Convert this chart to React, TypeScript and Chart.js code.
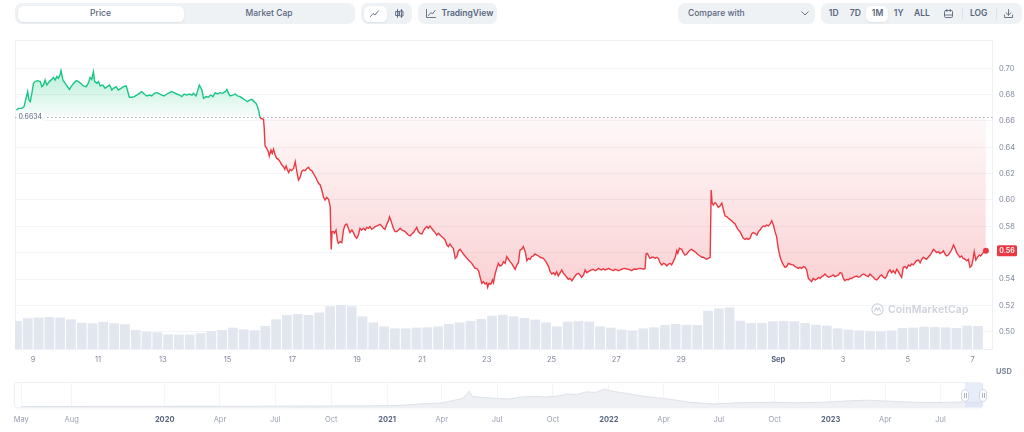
import { useEffect, useRef } from "react";
import { Chart, registerables } from "chart.js";

Chart.register(...registerables);

const GREEN = "#16c784";
const RED = "#ea3943";
const TEXT = "#58667e";
const MUTED = "#808a9d";
const PANEL = "#eff2f5";
const FONT = "Inter, sans-serif";

// price at the start of the period, drawn as the dotted reference line
const OPEN_PRICE = 0.6634;

// x is "day of August" (Sep 1 = 32)
const X_MIN = 8.44;
const X_MAX = 38.63;
const dayTicks = [9, 11, 13, 15, 17, 19, 21, 23, 25, 27, 29, 32, 34, 36, 38];
const dayTickLabels = ["9", "11", "13", "15", "17", "19", "21", "23", "25", "27", "29", "Sep", "3", "5", "7"];

const Y_MIN = 0.48686;
const Y_MAX = 0.72149;
const priceTicks = [0.5, 0.52, 0.54, 0.56, 0.58, 0.6, 0.62, 0.64, 0.66, 0.68, 0.7];

// [day, price USD]
const pricePoints: [number, number][] = [
  [8.48, 0.6683], [8.55, 0.6696], [8.65, 0.6696], [8.72, 0.6709], [8.78, 0.6772], [8.83, 0.6823], [8.87, 0.6759], [8.91, 0.6747],
  [8.96, 0.681], [9.01, 0.6886], [9.06, 0.6899], [9.13, 0.6906], [9.22, 0.6899], [9.27, 0.6861], [9.32, 0.6873], [9.37, 0.6911],
  [9.42, 0.6873], [9.5, 0.6899], [9.58, 0.6916], [9.63, 0.6931], [9.68, 0.6911], [9.73, 0.6937], [9.78, 0.6924], [9.83, 0.6949],
  [9.86, 0.6982], [9.92, 0.6911], [9.99, 0.6886], [10.06, 0.6861], [10.12, 0.684], [10.17, 0.6861], [10.25, 0.6886], [10.33, 0.6906],
  [10.4, 0.6899], [10.47, 0.6886], [10.55, 0.6866], [10.64, 0.6861], [10.71, 0.6891], [10.76, 0.6931], [10.81, 0.6916], [10.86, 0.6974],
  [10.9, 0.6899], [10.97, 0.6886], [11.02, 0.6899], [11.07, 0.6866], [11.15, 0.6873], [11.22, 0.6848], [11.29, 0.6861], [11.36, 0.6873],
  [11.43, 0.6835], [11.48, 0.6848], [11.56, 0.6861], [11.63, 0.6835], [11.71, 0.6848], [11.79, 0.6861], [11.87, 0.6866], [11.91, 0.6835],
  [11.97, 0.678], [12.05, 0.678], [12.12, 0.6785], [12.2, 0.6797], [12.28, 0.681], [12.35, 0.6823], [12.43, 0.6805], [12.51, 0.679],
  [12.59, 0.6797], [12.66, 0.679], [12.74, 0.681], [12.82, 0.6815], [12.9, 0.6805], [12.97, 0.6797], [13.04, 0.679], [13.13, 0.6805],
  [13.21, 0.6815], [13.28, 0.6823], [13.35, 0.6815], [13.43, 0.6805], [13.52, 0.6797], [13.59, 0.6785], [13.66, 0.6805], [13.74, 0.6797],
  [13.83, 0.6805], [13.9, 0.6797], [13.95, 0.681], [14.03, 0.679], [14.07, 0.6823], [14.13, 0.6873], [14.21, 0.6835], [14.26, 0.6772],
  [14.34, 0.6785], [14.41, 0.678], [14.48, 0.6797], [14.55, 0.6785], [14.62, 0.6815], [14.69, 0.6805], [14.77, 0.6815], [14.85, 0.681],
  [14.93, 0.6823], [14.98, 0.684], [15.03, 0.681], [15.08, 0.679], [15.16, 0.6797], [15.24, 0.6805], [15.31, 0.679], [15.39, 0.6785],
  [15.47, 0.6772], [15.54, 0.6759], [15.62, 0.6747], [15.68, 0.6759], [15.75, 0.6764], [15.82, 0.6747], [15.88, 0.6734], [15.92, 0.6714],
  [15.97, 0.6671], [15.99, 0.6638], [16.03, 0.662], [16.11, 0.6613], [16.13, 0.6557], [16.16, 0.641], [16.21, 0.6392], [16.26, 0.6367],
  [16.29, 0.6334], [16.34, 0.638], [16.38, 0.6354], [16.42, 0.6385], [16.47, 0.6342], [16.52, 0.6316], [16.57, 0.6309], [16.62, 0.6291],
  [16.68, 0.6266], [16.73, 0.6253], [16.77, 0.6233], [16.81, 0.6258], [16.85, 0.6228], [16.89, 0.6208], [16.93, 0.6233], [16.98, 0.6223],
  [17.04, 0.624], [17.09, 0.6291], [17.14, 0.6215], [17.19, 0.6152], [17.24, 0.6172], [17.29, 0.6215], [17.34, 0.6228], [17.4, 0.6223],
  [17.45, 0.624], [17.5, 0.6248], [17.55, 0.6228], [17.6, 0.6223], [17.65, 0.6203], [17.7, 0.6182], [17.76, 0.6152], [17.81, 0.6127],
  [17.86, 0.6114], [17.91, 0.6076], [17.96, 0.6025], [18.01, 0.6], [18.06, 0.602], [18.12, 0.6005], [18.17, 0.5949], [18.2, 0.5625],
  [18.23, 0.576], [18.27, 0.576], [18.3, 0.5747], [18.35, 0.5772], [18.39, 0.5696], [18.42, 0.5671], [18.48, 0.5684], [18.53, 0.5676],
  [18.58, 0.5772], [18.63, 0.581], [18.68, 0.5818], [18.73, 0.5785], [18.78, 0.5752], [18.84, 0.5772], [18.89, 0.5752], [18.94, 0.5722],
  [18.99, 0.5709], [19.04, 0.5734], [19.09, 0.5785], [19.14, 0.5772], [19.2, 0.5785], [19.25, 0.5772], [19.3, 0.5792], [19.35, 0.5785],
  [19.4, 0.5798], [19.45, 0.5777], [19.5, 0.5785], [19.56, 0.5798], [19.61, 0.5803], [19.66, 0.581], [19.71, 0.5815], [19.76, 0.5803],
  [19.81, 0.5785], [19.86, 0.5777], [19.92, 0.5818], [19.97, 0.5843], [20.0, 0.5873], [20.04, 0.5848], [20.07, 0.5823], [20.12, 0.5785],
  [20.17, 0.576], [20.22, 0.576], [20.28, 0.5772], [20.33, 0.5785], [20.38, 0.5772], [20.43, 0.5767], [20.48, 0.576], [20.53, 0.5747],
  [20.58, 0.5734], [20.64, 0.5727], [20.69, 0.5742], [20.74, 0.5752], [20.79, 0.5772], [20.84, 0.5792], [20.89, 0.576], [20.94, 0.5747],
  [21.0, 0.5742], [21.05, 0.5767], [21.1, 0.5785], [21.15, 0.5798], [21.2, 0.5785], [21.25, 0.5803], [21.3, 0.5785], [21.36, 0.5767],
  [21.41, 0.5752], [21.46, 0.5734], [21.51, 0.5747], [21.56, 0.5734], [21.61, 0.5722], [21.67, 0.5709], [21.72, 0.5696], [21.77, 0.5658],
  [21.82, 0.5646], [21.87, 0.5666], [21.92, 0.5646], [21.97, 0.5633], [22.03, 0.5557], [22.08, 0.557], [22.13, 0.5615], [22.18, 0.5625],
  [22.23, 0.5608], [22.28, 0.559], [22.33, 0.5575], [22.39, 0.5557], [22.44, 0.5544], [22.49, 0.5532], [22.54, 0.5519], [22.59, 0.5499],
  [22.64, 0.5481], [22.69, 0.5481], [22.75, 0.5463], [22.8, 0.5413], [22.85, 0.5367], [22.9, 0.538], [22.95, 0.5362], [23.0, 0.5372],
  [23.03, 0.5337], [23.07, 0.5367], [23.13, 0.5362], [23.18, 0.5393], [23.21, 0.5372], [23.26, 0.5438], [23.31, 0.5481], [23.36, 0.5519],
  [23.41, 0.5499], [23.47, 0.5506], [23.52, 0.5532], [23.57, 0.5519], [23.62, 0.557], [23.67, 0.555], [23.72, 0.5532], [23.77, 0.5519],
  [23.83, 0.5494], [23.88, 0.5473], [23.93, 0.5506], [23.98, 0.5524], [24.03, 0.562], [24.08, 0.5625], [24.13, 0.5646], [24.19, 0.5608],
  [24.24, 0.5539], [24.29, 0.5557], [24.34, 0.555], [24.39, 0.557], [24.44, 0.5575], [24.49, 0.559], [24.55, 0.5582], [24.6, 0.5575],
  [24.65, 0.5565], [24.75, 0.5557], [24.83, 0.5532], [24.91, 0.5494], [24.96, 0.5456], [25.01, 0.5438], [25.06, 0.5448], [25.11, 0.5431],
  [25.16, 0.5456], [25.21, 0.5423], [25.27, 0.5448], [25.32, 0.5469], [25.37, 0.5443], [25.42, 0.5431], [25.47, 0.5413], [25.52, 0.5398],
  [25.57, 0.5405], [25.63, 0.5387], [25.68, 0.5405], [25.73, 0.5423], [25.78, 0.5438], [25.83, 0.5443], [25.88, 0.5431], [25.93, 0.5413],
  [25.99, 0.5431], [26.04, 0.5469], [26.09, 0.5448], [26.14, 0.5456], [26.19, 0.5463], [26.24, 0.5469], [26.29, 0.5474], [26.35, 0.5463],
  [26.4, 0.5469], [26.45, 0.5481], [26.5, 0.5474], [26.55, 0.5469], [26.6, 0.5479], [26.65, 0.5469], [26.71, 0.5474], [26.76, 0.5481],
  [26.81, 0.5474], [26.86, 0.5469], [26.91, 0.5463], [26.96, 0.5474], [27.01, 0.5469], [27.07, 0.5463], [27.12, 0.5469], [27.17, 0.5474],
  [27.22, 0.5479], [27.27, 0.5481], [27.32, 0.5476], [27.37, 0.5474], [27.43, 0.5469], [27.48, 0.5463], [27.53, 0.5474], [27.58, 0.5476],
  [27.63, 0.5474], [27.68, 0.5479], [27.73, 0.5481], [27.79, 0.5479], [27.84, 0.5474], [27.89, 0.5479], [27.92, 0.559], [27.96, 0.5595],
  [28.0, 0.5575], [28.04, 0.5557], [28.1, 0.5565], [28.15, 0.5565], [28.2, 0.5557], [28.25, 0.5565], [28.3, 0.5557], [28.35, 0.5524],
  [28.4, 0.5507], [28.46, 0.5519], [28.51, 0.5514], [28.56, 0.5499], [28.61, 0.5512], [28.66, 0.5519], [28.71, 0.5507], [28.76, 0.5532],
  [28.82, 0.5565], [28.87, 0.5615], [28.9, 0.5595], [28.95, 0.5633], [29.02, 0.5625], [29.07, 0.56], [29.12, 0.5582], [29.18, 0.559],
  [29.23, 0.5608], [29.28, 0.562], [29.33, 0.5625], [29.38, 0.5615], [29.43, 0.5608], [29.48, 0.5595], [29.54, 0.5582], [29.59, 0.5575],
  [29.64, 0.5565], [29.69, 0.5565], [29.74, 0.5557], [29.79, 0.555], [29.84, 0.5557], [29.9, 0.5565], [29.93, 0.6076], [29.96, 0.5975],
  [30.0, 0.5962], [30.05, 0.598], [30.1, 0.5967], [30.15, 0.5944], [30.2, 0.5954], [30.26, 0.5975], [30.31, 0.5924], [30.36, 0.5878],
  [30.41, 0.5874], [30.46, 0.5861], [30.51, 0.5853], [30.56, 0.5843], [30.62, 0.5828], [30.67, 0.5818], [30.72, 0.5792], [30.77, 0.5772],
  [30.82, 0.576], [30.87, 0.5734], [30.92, 0.5709], [30.98, 0.5701], [31.03, 0.5709], [31.08, 0.5701], [31.13, 0.5709], [31.18, 0.5742],
  [31.23, 0.5752], [31.28, 0.5747], [31.34, 0.5734], [31.39, 0.576], [31.44, 0.5772], [31.49, 0.5792], [31.54, 0.5803], [31.59, 0.5798],
  [31.64, 0.581], [31.7, 0.5803], [31.75, 0.5818], [31.8, 0.5843], [31.85, 0.581], [31.9, 0.576], [31.95, 0.5722], [32.0, 0.5633],
  [32.06, 0.5565], [32.11, 0.5532], [32.16, 0.5507], [32.21, 0.5489], [32.26, 0.5494], [32.31, 0.5519], [32.36, 0.5514], [32.42, 0.5507],
  [32.47, 0.5507], [32.52, 0.5494], [32.57, 0.5489], [32.62, 0.5481], [32.67, 0.5489], [32.72, 0.5481], [32.78, 0.5494], [32.83, 0.5489],
  [32.88, 0.5469], [32.93, 0.5405], [32.98, 0.5393], [33.03, 0.538], [33.08, 0.5405], [33.14, 0.5393], [33.19, 0.5398], [33.24, 0.5413],
  [33.29, 0.5405], [33.34, 0.5418], [33.39, 0.5423], [33.44, 0.5438], [33.5, 0.5423], [33.55, 0.5413], [33.6, 0.5418], [33.65, 0.5423],
  [33.7, 0.5431], [33.75, 0.5418], [33.8, 0.5423], [33.86, 0.5431], [33.91, 0.5448], [33.96, 0.5443], [34.01, 0.5405], [34.06, 0.5387],
  [34.11, 0.5398], [34.16, 0.5393], [34.22, 0.5405], [34.27, 0.5403], [34.32, 0.5413], [34.37, 0.5418], [34.42, 0.5423], [34.47, 0.5413],
  [34.53, 0.5418], [34.58, 0.5431], [34.63, 0.5438], [34.68, 0.5431], [34.73, 0.5423], [34.78, 0.5418], [34.83, 0.5438], [34.89, 0.5423],
  [34.94, 0.5413], [34.99, 0.5398], [35.04, 0.5393], [35.09, 0.5405], [35.14, 0.5423], [35.19, 0.5431], [35.25, 0.5413], [35.3, 0.5405],
  [35.35, 0.5423], [35.4, 0.5456], [35.45, 0.5469], [35.5, 0.5448], [35.55, 0.5463], [35.61, 0.5443], [35.66, 0.5474], [35.71, 0.5456],
  [35.76, 0.5431], [35.81, 0.5413], [35.86, 0.5489], [35.91, 0.5494], [35.97, 0.5481], [36.02, 0.5507], [36.07, 0.5499], [36.12, 0.5514],
  [36.17, 0.5507], [36.22, 0.5524], [36.27, 0.5539], [36.33, 0.5544], [36.38, 0.5524], [36.43, 0.555], [36.48, 0.5565], [36.53, 0.5557],
  [36.58, 0.555], [36.63, 0.5565], [36.69, 0.5582], [36.74, 0.56], [36.79, 0.5625], [36.84, 0.5615], [36.89, 0.56], [36.94, 0.5608],
  [36.99, 0.5595], [37.05, 0.56], [37.1, 0.5615], [37.15, 0.559], [37.2, 0.5575], [37.25, 0.5582], [37.3, 0.56], [37.35, 0.562],
  [37.41, 0.5658], [37.46, 0.5633], [37.51, 0.56], [37.56, 0.5582], [37.61, 0.5565], [37.66, 0.5575], [37.71, 0.5557], [37.77, 0.555],
  [37.82, 0.5539], [37.87, 0.555], [37.92, 0.5489], [37.97, 0.5499], [38.02, 0.5557], [38.05, 0.5608], [38.1, 0.5544], [38.15, 0.5565],
  [38.21, 0.5582], [38.25, 0.5575], [38.31, 0.5595], [38.36, 0.5608], [38.41, 0.5615],
];

// 8-hour volume buckets, million USD, first bucket centred on Aug 8 12:00
const VOLUME_START = 8.5;
const VOLUME_STEP = 1 / 3;
const volumeM = [
  18.1, 19.9, 20.3, 20.7, 20.3, 19.2, 17.0, 16.6, 17.5, 16.6,
  16.0, 12.3, 11.2, 10.8, 9.5, 9.3, 9.3, 10.2, 11.6, 12.3,
  13.8, 12.7, 12.1, 14.9, 19.2, 22.0, 22.6, 22.0, 23.6, 27.6,
  28.5, 27.6, 21.1, 17.2, 14.6, 13.3, 13.3, 13.8, 14.0, 14.6,
  16.2, 17.2, 18.1, 19.4, 21.5, 22.2, 21.1, 20.1, 19.0, 17.2,
  14.6, 17.7, 18.1, 17.7, 14.6, 13.8, 12.5, 12.0, 13.3, 14.0,
  15.5, 16.2, 15.7, 15.5, 24.8, 26.3, 26.9, 18.3, 16.8, 16.8,
  17.9, 18.1, 17.9, 16.8, 15.7, 15.1, 13.3, 12.5, 12.0, 11.6,
  11.4, 12.0, 13.6, 13.8, 14.4, 14.2, 14.0, 13.6, 15.1, 14.9,
];

// navigator: full history [year, month, day, price USD]
const navPoints: [number, number, number, number][] = [
  [2019, 5, 10, 0.15], [2019, 7, 1, 0.15], [2019, 10, 1, 0.16], [2020, 1, 1, 0.17], [2020, 4, 1, 0.17],
  [2020, 7, 1, 0.19], [2020, 10, 1, 0.2], [2021, 1, 1, 0.23], [2021, 2, 1, 0.3], [2021, 3, 1, 0.42],
  [2021, 4, 1, 0.5], [2021, 4, 20, 0.75], [2021, 5, 5, 0.95], [2021, 5, 16, 1.67], [2021, 5, 22, 1.15],
  [2021, 6, 10, 1.05], [2021, 7, 1, 0.95], [2021, 7, 20, 0.9], [2021, 8, 10, 1.1], [2021, 9, 1, 1.15],
  [2021, 9, 20, 1.1], [2021, 10, 10, 1.2], [2021, 10, 25, 1.4], [2021, 11, 10, 1.35], [2021, 11, 25, 1.62],
  [2021, 12, 10, 1.55], [2021, 12, 25, 1.9], [2022, 1, 5, 1.7], [2022, 1, 20, 1.55], [2022, 2, 5, 1.4],
  [2022, 2, 20, 1.25], [2022, 3, 10, 1.1], [2022, 4, 1, 0.95], [2022, 4, 20, 0.8], [2022, 5, 10, 0.6],
  [2022, 6, 1, 0.5], [2022, 6, 20, 0.4], [2022, 7, 10, 0.45], [2022, 8, 1, 0.52], [2022, 9, 1, 0.55],
  [2022, 10, 1, 0.58], [2022, 11, 1, 0.52], [2022, 12, 1, 0.55], [2023, 1, 1, 0.6], [2023, 2, 1, 0.72],
  [2023, 3, 1, 0.78], [2023, 4, 1, 0.7], [2023, 5, 1, 0.62], [2023, 6, 1, 0.55], [2023, 7, 1, 0.55],
  [2023, 8, 1, 0.6], [2023, 9, 7, 0.56],
];
const navTicks: [number, number, number][] = [
  [2019, 5, 10], [2019, 8, 1], [2020, 1, 1], [2020, 4, 1], [2020, 7, 1], [2020, 10, 1], [2021, 1, 1],
  [2021, 4, 1], [2021, 7, 1], [2021, 10, 1], [2022, 1, 1], [2022, 4, 1], [2022, 7, 1], [2022, 10, 1],
  [2023, 1, 1], [2023, 4, 1], [2023, 7, 1],
];
const MONTHS = ["Jan", "Feb", "Mar", "Apr", "May", "Jun", "Jul", "Aug", "Sep", "Oct", "Nov", "Dec"];
const NAV_MIN = 118.7;
const NAV_MAX = 1711.8;

const navDay = (y: number, m: number, d: number) => (Date.UTC(y, m - 1, d) - Date.UTC(2019, 0, 1)) / 86400000;

function lineColor(chart: any) {
  const { ctx, chartArea, scales } = chart;
  if (!chartArea) return RED;
  const { top, bottom } = chartArea;
  const stop = (scales.y.getPixelForValue(OPEN_PRICE) - top) / (bottom - top);
  const g = ctx.createLinearGradient(0, top, 0, bottom);
  g.addColorStop(0, GREEN);
  g.addColorStop(stop, GREEN);
  g.addColorStop(stop, RED);
  g.addColorStop(1, RED);
  return g;
}

function areaColor(chart: any) {
  const { ctx, chartArea, scales } = chart;
  if (!chartArea) return "rgba(0,0,0,0)";
  const { top, bottom } = chartArea;
  const pos = (v: number) => (scales.y.getPixelForValue(v) - top) / (bottom - top);
  const base = pos(OPEN_PRICE);
  const g = ctx.createLinearGradient(0, top, 0, bottom);
  g.addColorStop(0, "rgba(22,199,132,0.3)");
  g.addColorStop(pos(0.69), "rgba(22,199,132,0.24)");
  g.addColorStop(base, "rgba(22,199,132,0.03)");
  g.addColorStop(base, "rgba(234,57,67,0.03)");
  g.addColorStop(pos(0.54), "rgba(234,57,67,0.22)");
  g.addColorStop(1, "rgba(234,57,67,0.25)");
  return g;
}

const decor = {
  id: "decor",
  beforeDatasetsDraw(chart: any) {
    const { ctx, chartArea: a, scales } = chart;
    ctx.save();
    ctx.strokeStyle = "#eef0f3";
    ctx.lineWidth = 1;
    ctx.strokeRect(a.left + 0.5, a.top + 0.5, a.right - a.left - 1, a.bottom - a.top);
    const yb = Math.round(scales.y.getPixelForValue(OPEN_PRICE)) + 0.5;
    ctx.setLineDash([1.5, 2.5]);
    ctx.strokeStyle = "#aab2c0";
    ctx.beginPath();
    ctx.moveTo(a.left, yb);
    ctx.lineTo(a.right, yb);
    ctx.stroke();
    ctx.restore();
  },
  afterDatasetsDraw(chart: any) {
    const { ctx, chartArea: a, scales } = chart;
    const yb = scales.y.getPixelForValue(OPEN_PRICE);
    const text = OPEN_PRICE.toFixed(4);
    ctx.save();
    ctx.font = `7px ${FONT}`;
    const w = ctx.measureText(text).width;
    ctx.fillStyle = "rgba(255,255,255,0.92)";
    ctx.fillRect(a.left + 2, yb - 4, w + 4, 8.5);
    ctx.fillStyle = TEXT;
    ctx.textBaseline = "middle";
    ctx.fillText(text, a.left + 3.5, yb + 0.5);
    ctx.restore();
  },
  afterDraw(chart: any) {
    const { ctx, chartArea: a, scales } = chart;
    const last = pricePoints[pricePoints.length - 1][1];
    const y = scales.y.getPixelForValue(last);
    ctx.save();
    ctx.fillStyle = RED;
    ctx.beginPath();
    ctx.roundRect(a.right + 4, y - 5.5, 20, 11, 1.5);
    ctx.fill();
    ctx.fillStyle = "#fff";
    ctx.font = `600 7px ${FONT}`;
    ctx.textAlign = "center";
    ctx.textBaseline = "middle";
    ctx.fillText(last.toFixed(2), a.right + 14, y + 0.5);
    ctx.restore();
  },
};

function buildMain(canvas: HTMLCanvasElement) {
  return new Chart(canvas, {
    type: "line",
    data: {
      datasets: [
        {
          type: "line",
          label: "Price",
          data: pricePoints.map(([x, y]) => ({ x, y })),
          yAxisID: "y",
          order: 1,
          borderWidth: 1.4,
          borderColor: (c: any) => lineColor(c.chart),
          backgroundColor: (c: any) => areaColor(c.chart),
          fill: { target: { value: OPEN_PRICE } },
          pointRadius: (c: any) => (c.dataIndex === pricePoints.length - 1 ? 3 : 0),
          pointBackgroundColor: RED,
          pointBorderColor: RED,
          pointBorderWidth: 0,
          pointHoverRadius: 0,
          tension: 0,
        },
        {
          type: "bar",
          label: "Volume",
          data: volumeM.map((v, i) => ({ x: VOLUME_START + i * VOLUME_STEP, y: v })),
          yAxisID: "vol",
          order: 2,
          backgroundColor: "#e2e6ee",
          borderWidth: 0,
          categoryPercentage: 1,
          barPercentage: 0.9,
        },
      ],
    } as any,
    options: {
      animation: false,
      responsive: true,
      maintainAspectRatio: false,
      events: [],
      layout: { padding: { left: 15, top: 6, right: 0, bottom: 0 } },
      plugins: { legend: { display: false }, tooltip: { enabled: false } },
      scales: {
        x: {
          type: "linear",
          min: X_MIN,
          max: X_MAX,
          offset: false,
          afterBuildTicks: (s: any) => {
            s.ticks = dayTicks.map((value) => ({ value }));
          },
          afterFit: (s: any) => {
            s.height = 31;
            s.paddingLeft = 0;
            s.paddingRight = 0;
          },
          grid: { display: false, drawTicks: false },
          border: { display: false },
          ticks: {
            autoSkip: false,
            maxRotation: 0,
            padding: 6,
            color: (c: any) => (c.tick && c.tick.value === 32 ? TEXT : MUTED),
            font: (c: any) => ({ family: FONT, size: 7.5, weight: c.tick && c.tick.value === 32 ? "bold" : "normal" }),
            callback: (v: any) => dayTickLabels[dayTicks.indexOf(Number(v))] ?? "",
          },
        },
        y: {
          position: "right",
          min: Y_MIN,
          max: Y_MAX,
          afterBuildTicks: (s: any) => {
            s.ticks = priceTicks.map((value) => ({ value }));
          },
          afterFit: (s: any) => {
            s.width = 31;
            s.paddingTop = 0;
            s.paddingBottom = 0;
          },
          grid: { color: "#f3f4f7", drawTicks: false },
          border: { display: false },
          ticks: {
            padding: 6,
            color: MUTED,
            font: { family: FONT, size: 7.5 },
            callback: (v: any) => Number(v).toFixed(2),
          },
        },
        vol: { display: false, min: 0, max: 200 },
      },
    } as any,
    plugins: [decor],
  });
}

function buildNav(canvas: HTMLCanvasElement) {
  const tickDays = navTicks.map(([y, m, d]) => navDay(y, m, d));
  return new Chart(canvas, {
    type: "line",
    data: {
      datasets: [
        {
          data: navPoints.map(([y, m, d, v]) => ({ x: navDay(y, m, d), y: v })),
          borderColor: "#dde1e8",
          borderWidth: 1,
          backgroundColor: "#eef0f4",
          fill: "origin",
          pointRadius: 0,
          tension: 0,
        },
      ],
    },
    options: {
      animation: false,
      responsive: true,
      maintainAspectRatio: false,
      events: [],
      layout: { padding: { left: 15, top: 1, right: 41, bottom: 0 } },
      plugins: { legend: { display: false }, tooltip: { enabled: false } },
      scales: {
        x: {
          type: "linear",
          min: NAV_MIN,
          max: NAV_MAX,
          afterBuildTicks: (s: any) => {
            s.ticks = tickDays.map((value) => ({ value }));
          },
          afterFit: (s: any) => {
            s.height = 20;
            s.paddingLeft = 0;
            s.paddingRight = 0;
          },
          grid: { color: "#f4f5f7", drawTicks: false },
          border: { display: false },
          ticks: {
            autoSkip: false,
            maxRotation: 0,
            padding: 7,
            color: (c: any) => (navTicks[c.index] && navTicks[c.index][1] === 1 ? TEXT : "#9aa1b2"),
            font: (c: any) => ({
              family: FONT,
              size: 7.5,
              weight: navTicks[c.index] && navTicks[c.index][1] === 1 ? "bold" : "normal",
            }),
            callback: (_v: any, i: number) => {
              const [y, m] = navTicks[i];
              return m === 1 ? String(y) : MONTHS[m - 1];
            },
          },
        },
        y: { display: false, min: 0, max: 2.5 },
      },
    } as any,
  });
}

const abs = (left: number, top: number, width: number, height: number, extra: any = {}) => ({
  position: "absolute" as const,
  left,
  top,
  width,
  height,
  ...extra,
});

function Txt({ x, children, weight = 500, color = TEXT, center = true }: any) {
  return (
    <span
      style={{
        position: "absolute",
        left: x,
        top: 3,
        height: 21,
        lineHeight: "21px",
        fontSize: 8.5,
        fontWeight: weight,
        color,
        whiteSpace: "nowrap",
        transform: center ? "translateX(-50%)" : undefined,
      }}
    >
      {children}
    </span>
  );
}

const panel = (left: number, width: number) => abs(left, 3, width, 21, { background: PANEL, borderRadius: 7 });
const pill = (left: number, width: number) =>
  abs(left, 5.5, width, 16, { background: "#fff", borderRadius: 5.5, boxShadow: "0 1px 2px rgba(88,102,126,0.12)" });

function Icon({ x, w, h, children }: any) {
  return (
    <svg
      width={w}
      height={h}
      viewBox={`0 0 ${w} ${h}`}
      style={{ position: "absolute", left: x - w / 2, top: 13.5 - h / 2 }}
      fill="none"
      stroke={TEXT}
      strokeWidth={0.9}
      strokeLinecap="round"
      strokeLinejoin="round"
    >
      {children}
    </svg>
  );
}

function Handle({ x }: { x: number }) {
  return (
    <div
      style={abs(x - 4, 389, 8, 13, {
        background: "#fff",
        border: "1px solid #cfd6e4",
        borderRadius: 4,
        boxSizing: "border-box",
        display: "flex",
        justifyContent: "center",
        alignItems: "center",
        gap: 1,
      })}
    >
      <div style={{ width: 0.8, height: 5, background: "#a6b0c3" }} />
      <div style={{ width: 0.8, height: 5, background: "#a6b0c3" }} />
    </div>
  );
}

export default function App() {
  const mainRef = useRef<HTMLCanvasElement>(null);
  const navRef = useRef<HTMLCanvasElement>(null);

  useEffect(() => {
    document.body.style.margin = "0";
    const charts: Chart[] = [];
    if (mainRef.current) charts.push(buildMain(mainRef.current));
    if (navRef.current) charts.push(buildNav(navRef.current));
    return () => charts.forEach((c) => c.destroy());
  }, []);

  return (
    <div style={abs(0, 0, 1024, 432, { position: "fixed", background: "#fff", fontFamily: FONT, overflow: "hidden" })}>
      {/* toolbar */}
      <div style={panel(15, 340)} />
      <div style={pill(17.5, 166)} />
      <Txt x={100.5}>Price</Txt>
      <Txt x={269}>Market Cap</Txt>

      <div style={panel(361, 51)} />
      <div style={pill(363.5, 23)} />
      <Icon x={374.5} w={9} h={7}>
        <polyline points="0.5,6.5 3,3.5 5,5 8.5,0.8" />
      </Icon>
      <Icon x={399.5} w={9} h={9}>
        <line x1="2.5" y1="0.5" x2="2.5" y2="8.5" />
        <rect x="1" y="2.5" width="3" height="4" />
        <line x1="6.5" y1="0.5" x2="6.5" y2="8.5" />
        <rect x="5" y="2" width="3" height="5" />
      </Icon>

      <div style={panel(418, 79)} />
      <Icon x={431} w={10} h={9}>
        <polyline points="0.5,0.5 0.5,8.5 9.5,8.5" />
        <polyline points="2.5,6.5 5,3.5 6.5,5 9,1.5" />
      </Icon>
      <Txt x={441.5} center={false} weight={600}>
        TradingView
      </Txt>

      <div style={panel(678, 137)} />
      <Txt x={688} center={false}>
        Compare with
      </Txt>
      <Icon x={804.5} w={8} h={5}>
        <polyline points="0.8,0.8 4,4 7.2,0.8" />
      </Icon>

      <div style={panel(821, 201)} />
      <div style={pill(866, 22)} />
      <Txt x={833.7} weight={600}>1D</Txt>
      <Txt x={855.3} weight={600}>7D</Txt>
      <Txt x={877.5} weight={600}>1M</Txt>
      <Txt x={898.7} weight={600}>1Y</Txt>
      <Txt x={922} weight={600}>ALL</Txt>
      <Icon x={948} w={9} h={9}>
        <rect x="0.5" y="1.5" width="8" height="7" rx="1.2" />
        <line x1="0.5" y1="6" x2="8.5" y2="6" />
        <line x1="2.8" y1="0.5" x2="2.8" y2="2.5" />
        <line x1="6.2" y1="0.5" x2="6.2" y2="2.5" />
      </Icon>
      <div style={abs(962, 8, 1, 11, { background: "#dde1e7" })} />
      <Txt x={978.7} weight={600}>LOG</Txt>
      <div style={abs(996, 8, 1, 11, { background: "#dde1e7" })} />
      <Icon x={1008.7} w={9} h={9}>
        <line x1="4.5" y1="0.5" x2="4.5" y2="6" />
        <polyline points="2,3.8 4.5,6.2 7,3.8" />
        <polyline points="0.5,6 0.5,8.5 8.5,8.5 8.5,6" />
      </Icon>

      {/* main chart */}
      <div style={abs(0, 34, 1024, 346)}>
        <canvas ref={mainRef} />
      </div>

      <div
        style={abs(871, 302, 110, 14, {
          display: "flex",
          alignItems: "center",
          gap: 4,
          color: "#cdd2dc",
          fontSize: 10.5,
          fontWeight: 600,
          letterSpacing: 0.1,
        })}
      >
        <svg width="13" height="13" viewBox="0 0 13 13" fill="none" stroke="#cdd2dc" strokeWidth="1.1">
          <circle cx="6.5" cy="6.5" r="5.6" />
          <polyline points="3.4,8.6 5,4.6 6.5,7.6 8,4.6 9.6,8.6" strokeLinejoin="round" />
        </svg>
        <span>CoinMarketCap</span>
      </div>

      <div style={abs(993, 367, 22, 11, { fontSize: 7.5, fontWeight: 700, color: MUTED, textAlign: "center" })}>USD</div>

      {/* navigator */}
      <div
        style={abs(14, 382, 969, 26, {
          border: "1px solid #eceff3",
          borderRadius: 4,
          boxSizing: "border-box",
          boxShadow: "0 1px 2px rgba(88,102,126,0.05)",
        })}
      />
      <div style={abs(0, 382, 1024, 46)}>
        <canvas ref={navRef} />
      </div>
      <div style={abs(965, 383, 18, 24, { background: "rgba(214,223,245,0.55)" })} />
      <Handle x={965} />
      <Handle x={983} />
    </div>
  );
}
